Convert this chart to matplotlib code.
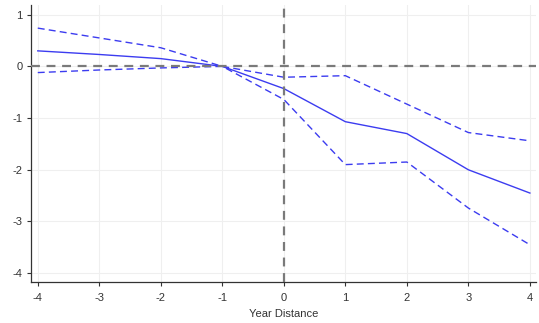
import matplotlib
matplotlib.use("Agg")
import matplotlib.pyplot as plt

# event-study estimates by year distance
years = [-4, -3, -2, -1, 0, 1, 2, 3, 4]
coef = [0.30, 0.23, 0.15, 0.0, -0.43, -1.07, -1.30, -2.00, -2.45]
ci_hi = [0.74, 0.55, 0.36, 0.0, -0.21, -0.18, -0.73, -1.28, -1.44]
ci_lo = [-0.12, -0.07, -0.03, 0.0, -0.64, -1.90, -1.85, -2.74, -3.45]

xticks = [-4, -3, -2, -1, 0, 1, 2, 3, 4]
yticks = [-4, -3, -2, -1, 0, 1]

plt.rcParams["font.family"] = ["Liberation Sans", "DejaVu Sans"]

fig = plt.figure(figsize=(5.39, 3.23), dpi=100)
ax = fig.add_axes([0.0575, 0.127, 0.937, 0.858])

blue = "#3c3cf0"
ax.plot(years, coef, color=blue, lw=1.0)
ax.plot(years, ci_hi, color=blue, lw=1.0, ls=(0, (5, 3)))
ax.plot(years, ci_lo, color=blue, lw=1.0, ls=(0, (5, 3)))

ax.axhline(0, color="#7a7a7a", lw=1.6, ls=(0, (4, 3)), zorder=3)
ax.axvline(0, color="#7a7a7a", lw=1.6, ls=(0, (4, 3)), zorder=3)

ax.set_xlim(-4.11, 4.1)
ax.set_ylim(-4.17, 1.19)
ax.set_xticks(xticks)
ax.set_yticks(yticks)
ax.set_xticklabels([str(t) for t in xticks])
ax.set_yticklabels([str(t) for t in yticks])
ax.tick_params(labelsize=8, length=3, width=0.8, colors="#333333", pad=3)
ax.tick_params(axis="x", pad=5)
ax.grid(True, color="#efefef", lw=0.8)
ax.set_axisbelow(True)
for s in ["top", "right"]:
    ax.spines[s].set_visible(False)
for s in ["left", "bottom"]:
    ax.spines[s].set_color("#333333")
    ax.spines[s].set_linewidth(0.9)

ax.set_xlabel("Year Distance", fontsize=8, color="#333333", labelpad=4)

fig.savefig("out.png", dpi=100)
